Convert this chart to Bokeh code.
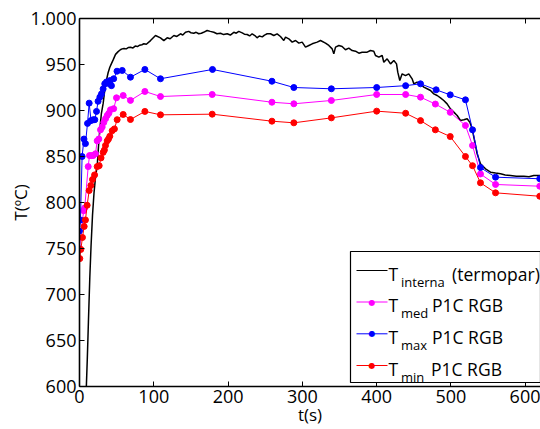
from bokeh.plotting import figure
from bokeh.models import (LinearAxis, FixedTicker, Label, BoxAnnotation, Arrow, Range1d,
                          CustomLabelingPolicy)
from bokeh.embed import file_html
from bokeh.resources import INLINE

FONT = "Open Sans"

# ---------------- data ----------------
x_ticks = [0, 100, 200, 300, 400, 500, 600]
y_ticks = [600, 650, 700, 750, 800, 850, 900, 950, 1000]
y_tick_labels = ["600", "650", "700", "750", "800", "850", "900", "950", "1.000"]

# T interna (termopar)
t_int = [9, 10.5, 12, 13.9, 15.5, 17.5, 19.5, 21.5, 23.8, 25.5, 27.4, 29.5, 31.9, 34, 36.3, 38.5,
         40.8, 43, 45.3, 48.5, 52, 55, 57.4, 60, 63, 66, 68.6, 72, 75, 78, 81, 84, 86.6, 90, 95.6,
         102.3, 109, 113.5, 118, 122, 127, 131, 136, 139, 142.7, 147, 150, 153.8, 157, 160.5, 164,
         167, 171.8, 176, 180.8, 185, 189.8, 194, 198.8, 203, 207.7, 211, 214.4, 219, 222, 225.7,
         229, 232.4, 236, 239, 242, 246, 249, 252.6, 257, 261.5, 266, 270.5, 275, 277.3, 281.7,
         286.3, 290.8, 295.2, 299.7, 304.2, 308.7, 313.2, 319.9, 324.4, 331.1, 335.6, 340.1, 342.3,
         344.6, 349.1, 353.5, 358, 362.5, 367, 371.5, 376, 380.4, 387.2, 391.6, 396.1, 398.4, 402.9,
         407.4, 409.6, 414.1, 418.6, 423.1, 426.7, 428.4, 431.1, 434.3, 438.8, 443.2, 447.7, 450,
         454.4, 458.9, 463.4, 467.9, 472.4, 476.9, 481.4, 485.9, 490.3, 494.8, 499.3, 503.8, 508.3,
         512.8, 517.3, 521.8, 525.4, 528.5, 531.7, 535.2, 539.7, 546.5, 553.2, 560, 566.7, 573,
         580.1, 588, 598, 605, 611.5, 620.5]
T_int = [595, 630, 670, 719, 752, 786, 810, 827, 840, 860, 880, 897, 908, 922, 933, 941,
         947, 951, 955, 961, 964, 966, 967, 967.5, 967, 968.5, 968.8, 968, 970, 969.5, 971, 971.5, 972.5, 972, 976,
         981.5, 979, 976, 979, 978, 981.5, 980.5, 983.4, 982, 985, 986, 984.5, 984, 985, 983.4, 984,
         985, 987, 986, 985, 983.4, 984, 982.5, 983.4, 982, 985, 984, 986, 984.4, 983, 982.6,
         981, 983.4, 981.5, 979, 981, 980, 982, 983.4, 983.4, 981.5, 983.3, 980.4, 976.1, 979.7, 977.9,
         974.3, 976.1, 973.2, 974.3, 968.9, 970.7, 972.5, 974.3, 976.1, 973.2, 970.7, 967, 961.6,
         968.9, 970.7, 969.6, 966, 967.8, 965.2, 964.5, 962.3, 963.4, 963.4, 965.2, 964.5, 959.8, 958,
         959.8, 952.5, 956.2, 950.7, 954.4, 950.7, 941.7, 932.6, 939.9, 938, 939.9, 934.4, 929,
         930.8, 929, 925.4, 923.6, 921.7, 918.1, 916.3, 913.8, 910.9, 907.2, 901.8, 898.2, 894.6,
         889.1, 889.9, 891, 887.3, 880.1, 867.4, 852.9, 842, 836.6, 833, 832, 831.2, 830,
         829.4, 828.5, 828.6, 828, 829.4, 829.4]

# T med P1C RGB
t_med = [0, 5.5, 7, 11.7, 13.5, 16, 18.4, 21.5, 23.8, 26, 28.3, 30.5, 32.7, 35, 37.3, 39.5, 41.7,
         46, 49.8, 58.8, 68.6, 88, 109, 178.6, 259, 288.5, 339, 400, 439, 459, 479, 499, 519.5,
         529, 539.7, 560, 619.5]
T_med = [750, 791, 794, 839, 851, 851, 851, 853, 867, 869, 879, 882, 887, 891, 894.6, 897, 900.8,
         902, 913.8, 916.3, 911, 920.7, 915.2, 917.4, 909, 907.3, 910.9, 917.4, 917.4, 914.5, 907, 898, 883.7,
         862, 831, 819.6, 817.7]

# T max P1C RGB
t_max = [0, 1.3, 3.5, 6, 8, 10.8, 13, 15.5, 18.5, 20.6, 22.9, 25, 27.4, 29.6, 31.8, 34, 36.3, 38.6,
         41, 43, 46, 50.5, 57.5, 68.6, 88, 109, 179, 259, 288.5, 339, 400, 439, 459, 480, 499,
         519.5, 529, 539.7, 560, 619.5]
T_max = [769, 781, 850, 869, 864, 886, 908, 889, 890, 890, 899, 910, 914.5, 918, 923.5, 929, 931, 929.5,
         932.5, 927, 934.5, 942.7, 943.5, 936.2, 944.6, 934.5, 944.6, 931.8, 925, 923.6, 925, 927, 929, 922.5, 917,
         911.6, 879, 838, 827.5, 825.8]

# T min P1C RGB
t_min = [0.4, 1.8, 4, 6.3, 8, 10.3, 13, 15.3, 17.5, 20.3, 23.8, 26.5, 29, 31.9, 33.5, 35, 37.3, 39,
         40.8, 44, 47, 50.7, 58.8, 68.6, 88, 109, 178.6, 259, 288.5, 339, 400, 439, 459, 479, 499,
         519.5, 529, 539.7, 560, 619.5]
T_min = [739, 749, 762, 774, 781, 797, 813, 818.5, 825, 830, 839, 840, 848.5, 854.5, 857, 862, 867, 869,
         872, 878, 880, 890, 895.7, 890.2, 899, 895.3, 896, 888.4, 886.6, 892, 899.3, 897, 889, 879, 871.7,
         850, 840, 821.4, 810.5, 806.8]

# ---------------- figure ----------------
W, H = 540, 429
FRAME_L, FRAME_R, FRAME_T, FRAME_B = 79, 540, 18, 386
X0, X1 = 0, 620.5
Y0, Y1 = 600, 1000

p = figure(width=W, height=H, output_backend="svg", toolbar_location=None,
           x_range=Range1d(X0, X1), y_range=Range1d(Y0, Y1),
           min_border_left=FRAME_L, min_border_right=W - FRAME_R,
           min_border_top=FRAME_T, min_border_bottom=H - FRAME_B,
           x_axis_label="t(s)", y_axis_label="T(ºC)")
p.outline_line_color = None
p.grid.visible = False
p.background_fill_color = "white"
p.border_fill_color = "white"

no_labels = CustomLabelingPolicy(code="""
try { for (const i of Array.from(indices)) { indices.unset(i) } } catch (e) {}
return indices
""")
top_axis = LinearAxis(ticker=FixedTicker(ticks=x_ticks), major_label_policy=no_labels)
p.add_layout(top_axis, "above")

p.xaxis[0].ticker = FixedTicker(ticks=x_ticks)
p.yaxis[0].ticker = FixedTicker(ticks=y_ticks)
p.yaxis[0].major_label_overrides = {float(k): v for k, v in zip(y_ticks, y_tick_labels)}

for ax in p.xaxis + p.yaxis:
    ax.axis_line_width = 1.6
    ax.axis_line_color = "black"
    ax.major_tick_in = 5
    ax.major_tick_out = 0
    ax.major_tick_line_width = 1
    ax.minor_tick_line_color = None
    ax.major_label_text_font = FONT
    ax.major_label_text_font_size = "18px"
    ax.major_label_text_color = "black"
    ax.axis_label_text_font = FONT
    ax.axis_label_text_font_size = "17px"
    ax.axis_label_text_font_style = "normal"
    ax.axis_label_text_color = "black"

p.below[0].major_label_standoff = -1
p.below[0].axis_label_standoff = -3
p.yaxis[0].major_label_standoff = 3
p.yaxis[0].axis_label_standoff = -4
top_axis.major_label_text_font_size = "1px"
top_axis.major_label_standoff = 0

MAG, BLU, RED = "#FF00FF", "#0000FF", "#FF0000"

p.line(t_int, T_int, line_color="black", line_width=1.5)
p.line(t_med, T_med, line_color=MAG, line_width=1)
p.scatter(t_med, T_med, size=6, fill_color=MAG, line_color=MAG)
p.line(t_max, T_max, line_color=BLU, line_width=1)
p.scatter(t_max, T_max, size=6, fill_color=BLU, line_color=BLU)
p.line(t_min, T_min, line_color=RED, line_width=1)
p.scatter(t_min, T_min, size=6, fill_color=RED, line_color=RED)

# ---------------- legend (page-pixel layout -> data units) ----------------
def sx(px):
    return X0 + (px - FRAME_L) * (X1 - X0) / (FRAME_R - FRAME_L)

def sy(py):
    return Y0 + (FRAME_B - py) * (Y1 - Y0) / (FRAME_B - FRAME_T)

p.add_layout(BoxAnnotation(left=sx(350), bottom=sy(382), top=sy(251),
                           fill_color="white", fill_alpha=1.0,
                           line_color="black", line_width=1.2, line_alpha=1.0))

entries = [
    ("black", "interna", "(termopar)", 451.5, False),
    (MAG, "med", "P1C RGB", 431.5, True),
    (BLU, "max", "P1C RGB", 431.5, True),
    (RED, "min", "P1C RGB", 430.5, True),
]
baselines = [273, 304.5, 336.3, 368]

for (col, sub, rest, rest_x, dot), base in zip(entries, baselines):
    ly = base - 3
    p.add_layout(Arrow(end=None, x_start=sx(356), x_end=sx(387), y_start=sy(ly), y_end=sy(ly),
                       line_color=col, line_width=1))
    if dot:
        p.add_layout(Label(x=sx(371.5), y=sy(ly), text="●", text_color=col,
                           text_font="DejaVu Sans", text_font_size="8px",
                           text_align="center", text_baseline="middle"))
    p.add_layout(Label(x=sx(388), y=sy(base), text="T", text_font=FONT, text_font_size="17.5px",
                       text_baseline="alphabetic", text_color="black"))
    p.add_layout(Label(x=sx(400.5), y=sy(base + 8), text=sub, text_font=FONT, text_font_size="13px",
                       text_baseline="alphabetic", text_color="black"))
    p.add_layout(Label(x=sx(rest_x), y=sy(base), text=rest, text_font=FONT, text_font_size="17.5px",
                       text_baseline="alphabetic", text_color="black"))

open("out.html", "w").write(file_html(p, INLINE))
